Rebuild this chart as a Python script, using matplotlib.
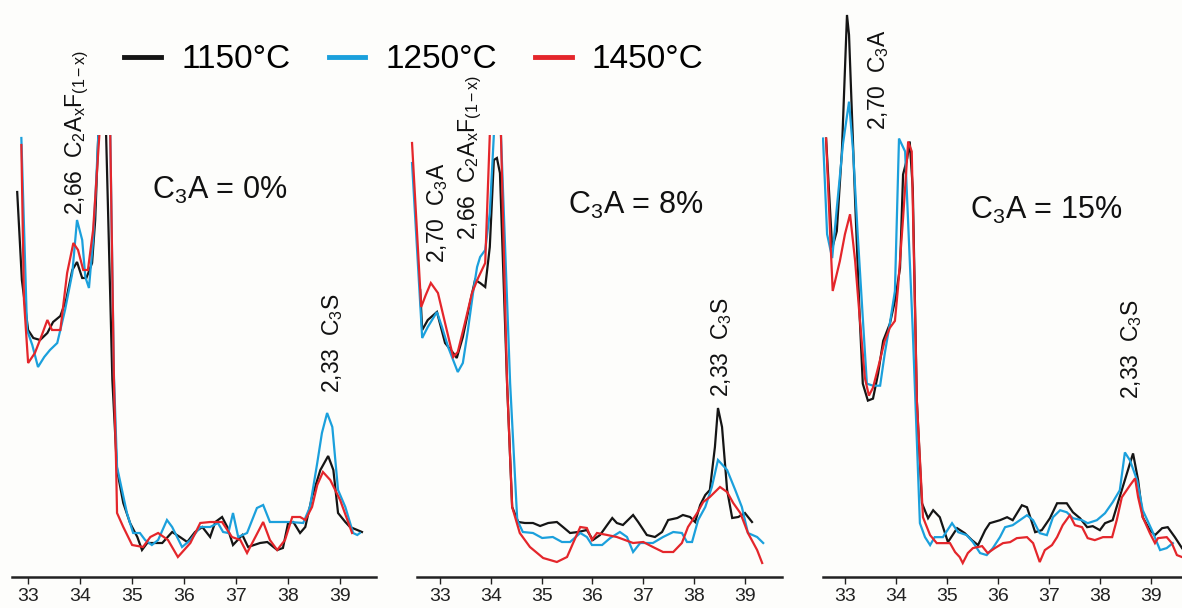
import matplotlib
matplotlib.use("Agg")
import matplotlib.pyplot as plt

plt.rcParams['font.family'] = ['Liberation Sans', 'DejaVu Sans']
plt.rcParams['mathtext.fontset'] = 'custom'
plt.rcParams['mathtext.rm'] = 'Liberation Sans'
plt.rcParams['mathtext.it'] = 'Liberation Sans:italic'

# 2-theta positions and intensities (arbitrary units)
# values of 700 = main peak running off the top of the panel
p1_black_x = [32.79, 32.88, 33.00, 33.10, 33.23, 33.37, 33.48, 33.62, 33.73, 33.85, 33.94, 34.04, 34.12, 34.23, 34.29,
              34.35, 34.42, 34.50, 34.62, 34.71, 34.83, 34.96, 35.10, 35.19, 35.29, 35.40, 35.58, 35.77, 35.92, 36.06,
              36.21, 36.35, 36.50, 36.60, 36.73, 36.83, 36.94, 37.12, 37.23, 37.46, 37.60, 37.79, 37.90, 38.00, 38.10,
              38.23, 38.33, 38.46, 38.62, 38.77, 38.87, 38.96, 39.10, 39.19, 39.33, 39.42]
p1_black_y = [383, 295, 245, 237, 235, 242, 253, 259, 275, 305, 313, 297, 297, 312, 355,
              440, 700, 440, 195, 105, 72, 52, 38, 25, 32, 32, 32, 43, 38, 33,
              43, 48, 38, 53, 58, 48, 30, 40, 28, 32, 33, 25, 27, 52, 53,
              42, 48, 78, 105, 119, 105, 62, 53, 48, 45, 43]
p1_blue_x = [32.87, 32.98, 33.08, 33.19, 33.31, 33.42, 33.56, 33.71, 33.85, 33.94, 34.04, 34.10, 34.17, 34.25, 34.31,
             34.35, 34.46, 34.58, 34.65, 34.71, 34.90, 35.02, 35.15, 35.25, 35.38, 35.50, 35.67, 35.77, 35.96, 36.12,
             36.31, 36.50, 36.65, 36.75, 36.85, 36.94, 37.04, 37.21, 37.40, 37.52, 37.65, 38.04, 38.29, 38.42, 38.56,
             38.65, 38.75, 38.85, 38.96, 39.10, 39.25, 39.33, 39.38]
p1_blue_y = [437, 245, 230, 208, 218, 225, 232, 265, 302, 355, 335, 298, 287, 335, 395,
             440, 700, 440, 200, 108, 62, 42, 42, 35, 30, 35, 55, 48, 28, 35,
             48, 48, 52, 43, 42, 62, 38, 42, 67, 70, 53, 53, 52, 68, 112,
             142, 162, 148, 85, 68, 42, 40, 42]
p1_red_x = [32.87, 32.92, 33.00, 33.13, 33.25, 33.37, 33.46, 33.62, 33.75, 33.87, 33.96, 34.06, 34.15, 34.25, 34.37,
            34.48, 34.58, 34.65, 34.69, 34.71, 34.83, 35.00, 35.21, 35.35, 35.50, 35.69, 35.88, 36.12, 36.31, 36.50,
            36.73, 36.92, 37.08, 37.21, 37.37, 37.52, 37.65, 37.79, 37.94, 38.08, 38.23, 38.33, 38.46, 38.56, 38.67,
            38.81, 39.00, 39.23]
p1_red_y = [430, 275, 212, 222, 238, 255, 245, 245, 302, 332, 325, 305, 305, 345, 440,
            700, 440, 195, 115, 62, 48, 30, 28, 38, 42, 35, 18, 32, 52, 53,
            53, 38, 35, 22, 38, 53, 35, 25, 35, 58, 58, 55, 68, 90, 103,
            95, 75, 42]

p2_black_x = [32.61, 32.65, 32.76, 32.94, 33.10, 33.26, 33.33, 33.45, 33.59, 33.69, 33.79, 33.89, 33.98, 34.06, 34.12,
              34.18, 34.32, 34.42, 34.54, 34.67, 34.83, 34.97, 35.13, 35.30, 35.42, 35.56, 35.72, 35.89, 36.01, 36.15,
              36.29, 36.39, 36.48, 36.60, 36.70, 36.80, 36.90, 37.07, 37.23, 37.37, 37.49, 37.67, 37.78, 37.92, 38.02,
              38.12, 38.22, 38.31, 38.41, 38.47, 38.55, 38.65, 38.75, 38.87, 39.00, 39.14]
p2_black_y = [285, 245, 255, 263, 232, 222, 217, 238, 272, 295, 292, 288, 328, 415, 417,
              402, 192, 68, 53, 52, 52, 49, 52, 53, 48, 42, 43, 45, 35, 40,
              50, 57, 52, 50, 55, 60, 53, 40, 38, 43, 55, 57, 60, 58, 53,
              70, 80, 85, 128, 167, 148, 85, 57, 58, 62, 53]
p2_blue_x = [32.45, 32.65, 32.76, 32.94, 33.04, 33.16, 33.35, 33.45, 33.55, 33.65, 33.73, 33.79, 33.89, 33.98, 34.06,
             34.13, 34.20, 34.38, 34.52, 34.63, 34.83, 35.01, 35.22, 35.40, 35.56, 35.76, 35.89, 35.99, 36.19, 36.35,
             36.54, 36.68, 36.80, 36.94, 37.19, 37.39, 37.59, 37.76, 37.86, 37.96, 38.08, 38.22, 38.35, 38.47, 38.65,
             38.81, 38.94, 39.06, 39.24, 39.36]
p2_blue_y = [412, 237, 248, 263, 248, 228, 203, 212, 245, 282, 308, 318, 325, 362, 440,
             700, 440, 192, 55, 43, 42, 37, 38, 33, 33, 42, 38, 30, 30, 37,
             43, 38, 23, 32, 32, 38, 43, 42, 33, 33, 55, 68, 88, 115, 105,
             85, 68, 42, 38, 32]
p2_red_x = [32.45, 32.63, 32.72, 32.82, 32.96, 33.10, 33.26, 33.35, 33.49, 33.63, 33.75, 33.89, 33.98, 34.10, 34.20,
            34.32, 34.42, 34.57, 34.77, 35.03, 35.30, 35.50, 35.62, 35.76, 35.89, 35.99, 36.09, 36.29, 36.48, 36.64,
            36.80, 37.00, 37.19, 37.39, 37.59, 37.76, 37.88, 38.06, 38.18, 38.31, 38.51, 38.65, 38.77, 38.91, 39.06,
            39.24, 39.34]
p2_red_y = [432, 268, 280, 292, 282, 252, 218, 223, 252, 282, 297, 312, 440, 700, 440,
            192, 68, 42, 28, 17, 13, 18, 32, 48, 47, 35, 42, 40, 38, 35,
            32, 33, 28, 23, 23, 32, 48, 62, 73, 78, 88, 83, 72, 62, 42,
            25, 12]

p3_black_x = [32.63, 32.75, 32.84, 32.94, 33.04, 33.08, 33.20, 33.29, 33.35, 33.45, 33.55, 33.65, 33.75, 33.88, 33.98,
              34.08, 34.14, 34.22, 34.27, 34.33, 34.41, 34.51, 34.63, 34.73, 34.86, 35.02, 35.20, 35.35, 35.49, 35.61,
              35.75, 35.84, 36.04, 36.18, 36.29, 36.47, 36.57, 36.73, 36.86, 37.02, 37.16, 37.35, 37.47, 37.61, 37.75,
              37.86, 38.00, 38.10, 38.25, 38.35, 38.53, 38.65, 38.75, 38.84, 38.98, 39.08, 39.22, 39.33, 39.47, 39.61]
p3_black_y = [438, 328, 345, 425, 562, 542, 375, 258, 192, 175, 177, 202, 235, 252, 275,
              308, 402, 418, 435, 388, 175, 72, 57, 65, 58, 33, 47, 42, 35, 30,
              45, 52, 55, 58, 55, 70, 68, 43, 45, 57, 72, 72, 63, 57, 48,
              49, 45, 52, 55, 72, 102, 122, 95, 58, 45, 40, 47, 48, 38, 27]
p3_blue_x = [32.57, 32.65, 32.75, 32.84, 32.96, 33.08, 33.16, 33.25, 33.35, 33.43, 33.55, 33.69, 33.78, 33.88, 33.98,
             34.06, 34.18, 34.33, 34.41, 34.47, 34.57, 34.67, 34.76, 34.92, 35.10, 35.22, 35.39, 35.51, 35.65, 35.78,
             35.90, 36.04, 36.14, 36.29, 36.43, 36.57, 36.69, 36.82, 36.96, 37.08, 37.22, 37.35, 37.47, 37.65, 37.76,
             37.94, 38.10, 38.25, 38.39, 38.49, 38.59, 38.73, 38.84, 39.02, 39.18, 39.31, 39.43]
p3_blue_y = [438, 342, 318, 368, 432, 475, 425, 342, 258, 192, 190, 190, 222, 252, 285,
             438, 425, 245, 135, 52, 38, 30, 38, 38, 52, 43, 40, 33, 22, 20,
             27, 38, 48, 50, 55, 60, 55, 42, 40, 58, 65, 63, 57, 55, 52,
             55, 62, 73, 85, 123, 115, 95, 65, 45, 25, 27, 32]
p3_red_x = [32.63, 32.71, 32.76, 32.90, 33.00, 33.10, 33.20, 33.29, 33.39, 33.47, 33.55, 33.65, 33.78, 33.88, 33.98,
            34.04, 34.14, 34.24, 34.31, 34.41, 34.53, 34.67, 34.80, 35.06, 35.16, 35.25, 35.31, 35.41, 35.51, 35.69,
            35.80, 35.94, 36.10, 36.24, 36.37, 36.57, 36.69, 36.82, 36.92, 37.06, 37.16, 37.27, 37.41, 37.51, 37.65,
            37.76, 37.90, 38.06, 38.24, 38.33, 38.43, 38.59, 38.69, 38.75, 38.84, 38.98, 39.08, 39.14, 39.31, 39.41,
            39.51, 39.61]
p3_red_y = [438, 342, 285, 315, 342, 362, 315, 258, 198, 180, 188, 208, 235, 248, 255,
            288, 358, 435, 425, 175, 58, 40, 32, 32, 23, 18, 12, 22, 27, 29,
            22, 27, 32, 33, 37, 38, 32, 13, 25, 30, 38, 50, 60, 50, 48,
            37, 35, 38, 38, 55, 78, 90, 97, 78, 58, 42, 32, 37, 38, 32,
            20, 18]

temps = ['1150°C', '1250°C', '1450°C']
colors = ['#151515', '#1ba0dc', '#e4262b']
ticks = [33, 34, 35, 36, 37, 38, 39]

W, H = 1182, 608
fig = plt.figure(figsize=(W / 100, H / 100), dpi=100)
fig.patch.set_facecolor('#fdfdfb')


def make_panel(left_px, right_px, top_px, xlim, ylim_top, spine_from):
    ax = fig.add_axes([left_px / W, (H - 577) / H, (right_px - left_px) / W, (577 - top_px) / H])
    ax.set_facecolor('none')
    ax.set_xlim(*xlim)
    ax.set_ylim(-2, ylim_top)
    for s in ['top', 'right', 'left']:
        ax.spines[s].set_visible(False)
    ax.spines['bottom'].set_linewidth(1.8)
    ax.spines['bottom'].set_color('#222222')
    ax.spines['bottom'].set_bounds(spine_from, xlim[1])
    ax.set_yticks([])
    ax.set_xticks(ticks)
    ax.tick_params(axis='x', direction='out', length=5, width=1, pad=3, labelsize=14, colors='#222222')
    for lab in ax.get_xticklabels():
        lab.set_family(['Liberation Sans Narrow', 'Liberation Sans', 'DejaVu Sans'])
    return ax


ax1 = make_panel(12, 376, 135, (32.69, 39.69), 440, 32.69)
ax2 = make_panel(410, 782, 135, (32.41, 39.73), 440, 32.55)
ax3 = make_panel(822, 1182, 2, (32.55, 39.61), 575, 32.57)

panels = [
    (ax1, [(p1_black_x, p1_black_y), (p1_blue_x, p1_blue_y), (p1_red_x, p1_red_y)]),
    (ax2, [(p2_black_x, p2_black_y), (p2_blue_x, p2_blue_y), (p2_red_x, p2_red_y)]),
    (ax3, [(p3_black_x, p3_black_y), (p3_blue_x, p3_blue_y), (p3_red_x, p3_red_y)]),
]
handles = []
for ax, series in panels:
    for (xs, ys), c, t in zip(series, colors, temps):
        ln, = ax.plot(xs, ys, color=c, lw=1.6, solid_joinstyle='miter', label=t)
        if ax is ax1:
            handles.append(ln)

ann = dict(rotation=90, ha='center', va='bottom', fontsize=16.5, color='#111111', clip_on=False)
c2af = r'2,66  C$_\mathrm{2}$A$_\mathrm{x}$F$_\mathrm{(1-x)}$'
c3s = r'2,33  C$_\mathrm{3}$S'
c3a = r'2,70  C$_\mathrm{3}$A'

ax1.text(33.94, 360, c2af, **ann)
ax1.text(38.85, 182, c3s, **ann)
ax1.text(36.69, 385, r'C$_\mathrm{3}$A = 0%', ha='center', va='center', fontsize=22, color='#111111')

ax2.text(32.96, 312, c3a, **ann)
ax2.text(33.59, 335, c2af, **ann)
ax2.text(38.55, 178, c3s, **ann)
ax2.text(36.84, 370, r'C$_\mathrm{3}$A = 8%', ha='center', va='center', fontsize=22, color='#111111')

ax3.text(33.65, 447, c3a, **ann)
ax3.text(38.63, 177, c3s, **ann)
ax3.text(36.94, 366, r'C$_\mathrm{3}$A = 15%', ha='center', va='center', fontsize=22, color='#111111')

leg = fig.legend(handles=handles, labels=temps, loc='center', bbox_to_anchor=(414 / W, 1 - 60 / H),
                 ncol=3, frameon=False, fontsize=24, handlelength=1.1, handletextpad=0.6,
                 columnspacing=1.15)
for ln in leg.get_lines():
    ln.set_linewidth(3.5)

fig.savefig('out.png', dpi=100, facecolor=fig.get_facecolor())
